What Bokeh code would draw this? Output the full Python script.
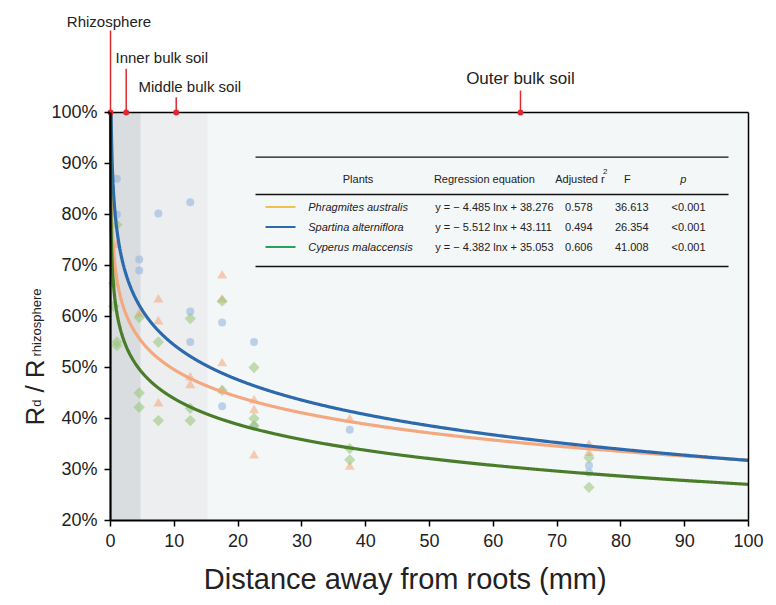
import numpy as np
from bokeh.plotting import figure
from bokeh.models import Range1d, FixedTicker, PrintfTickFormatter, Label, Arrow
from bokeh.embed import file_html
from bokeh.resources import INLINE

# ---------------- data ----------------
x_ticks = [0, 10, 20, 30, 40, 50, 60, 70, 80, 90, 100]
y_ticks = [20, 30, 40, 50, 60, 70, 80, 90, 100]

zone_names = ["Rhizosphere", "Inner bulk soil", "Middle bulk soil", "Outer bulk soil"]
zone_marker_x = [0, 2.46, 10.3, 64.26]
band_edges = [0, 4.75, 15.25, 100]

plants = ["Phragmites australis", "Spartina alterniflora", "Cyperus malaccensis"]
equations = ["y = \u2212 4.485 lnx + 38.276",
             "y = \u2212 5.512 lnx + 43.111",
             "y = \u2212 4.382 lnx + 35.053"]
adj_r2 = ["0.578", "0.494", "0.606"]
f_values = ["36.613", "26.354", "41.008"]
p_values = ["<0.001", "<0.001", "<0.001"]
headers = ["Plants", "Regression equation", "Adjusted r", "F", "p"]

# fitted curves as drawn (percent): y = a - b ln(x)
curve_a = [67.3, 77.0, 60.7]
curve_b = [7.7, 9.82, 7.3]

# observations (percent of rhizosphere)
phr_x = [1, 4.5, 7.5, 7.5, 7.5, 12.5, 12.5, 17.5, 17.5, 17.5, 17.5, 22.5, 22.5, 22.5, 37.5, 37.5, 75, 75]
phr_y = [74, 60.5, 63.3, 59, 42.9, 48, 46.5, 68, 63.3, 50.8, 45.5, 43.5, 41.6, 32.7, 39.8, 30.5, 34.8, 33.2]
spa_x = [1, 1, 4.5, 4.5, 7.5, 12.5, 12.5, 12.5, 17.5, 17.5, 22.5, 22.5, 37.5, 75, 75]
spa_y = [87, 80, 71.2, 69, 80.2, 82.4, 61, 55, 58.8, 42.4, 55, 38.5, 37.8, 30.8, 29.4]
cyp_x = [1, 0.5, 0.5, 1, 1, 4.5, 4.5, 4.5, 7.5, 7.5, 12.5, 12.5, 12.5, 17.5, 17.5, 22.5, 22.5, 22.5, 37.5, 37.5, 75, 75]
cyp_y = [78, 66.5, 62, 55, 54.3, 59.8, 45, 42.2, 55, 39.6, 59.6, 42, 39.6, 63, 45.5, 50, 40, 38.6, 34.1, 31.9, 32.3, 26.5]

# ---------------- styles ----------------
FONT = "Liberation Sans"
band_colors = ["#d9dddf", "#eceeef", "#f4f7f8"]
curve_colors = ["#f3a87f", "#2d6aad", "#4a7d2a"]
legend_colors = ["#eec24c", "#2d6aad", "#25a35c"]
RED = "#de2a2f"
TXT = "#222222"

# the frame covers the whole canvas; the plot box (0-100, 20-100) sits inside it
p = figure(width=776, height=605, min_border=0,
           x_range=Range1d(-17.241, 104.389), y_range=Range1d(3.333, 121.96),
           output_backend="svg", toolbar_location=None)
p.background_fill_color = "white"
p.border_fill_color = "white"
p.outline_line_color = None
p.grid.visible = False

# background bands
p.quad(left=band_edges[:-1], right=band_edges[1:], bottom=20, top=100,
       fill_color=band_colors, line_color=None)

# scatter points
p.scatter(spa_x, spa_y, marker="circle", size=8, fill_color="#8fb0de", fill_alpha=0.55, line_color=None)
p.scatter(phr_x, phr_y, marker="triangle", size=10, fill_color="#f3a06c", fill_alpha=0.5, line_color=None)
p.scatter(cyp_x, cyp_y, marker="square", angle=np.pi / 4, size=8, fill_color="#93c572",
          fill_alpha=0.55, line_color=None)

# fitted curves, starting where they leave the 100% line
for a, b, c in zip(curve_a, curve_b, curve_colors):
    x0 = np.exp((a - 100.0) / b)
    xs = np.geomspace(x0, 100, 3000)
    p.line(xs, a - b * np.log(xs), line_color=c, line_width=3.2)

# box (top and right sides)
p.segment(x0=[0, 100], y0=[100, 20], x1=[100, 100], y1=[100, 100], line_color="black", line_width=1.5)

# axes fixed at the box edges
p.xaxis.fixed_location = 20
p.yaxis.fixed_location = 0
p.xaxis.bounds = (0, 100)
p.yaxis.bounds = (20, 100)
p.xaxis.ticker = FixedTicker(ticks=x_ticks)
p.yaxis.ticker = FixedTicker(ticks=y_ticks)
p.yaxis.formatter = PrintfTickFormatter(format="%d%%")
for ax in (p.xaxis, p.yaxis):
    ax.axis_line_width = 2.2
    ax.axis_line_color = "black"
    ax.major_tick_line_color = "black"
    ax.major_tick_line_width = 1.5
    ax.major_tick_out = 6
    ax.major_tick_in = 0
    ax.minor_tick_line_color = None
    ax.major_label_text_font = FONT
    ax.major_label_text_font_size = "18px"
    ax.major_label_text_color = TXT
p.xaxis.major_label_standoff = 8
p.yaxis.major_label_standoff = 7


def lab(x, y, text, size, align="left", baseline="middle", color=TXT,
        style="normal", angle=0):
    p.add_layout(Label(x=x, y=y, text=text, text_font=FONT, text_font_size=size,
                       text_align=align, text_baseline=baseline, text_color=color,
                       text_font_style=style, angle=angle))


# x-axis title
lab(46.2, 8.6, "Distance away from roots (mm)", "29px", align="center")

# y-axis title: R_d / R_rhizosphere (rotated, composed)
yl_x, yl_xs = -11.91, -11.6
lab(yl_x, 38.63, "R", "26px", baseline="alphabetic", angle=np.pi / 2)
lab(yl_xs, 42.31, "d", "13px", baseline="alphabetic", angle=np.pi / 2)
lab(yl_x, 45.1, "/", "26px", baseline="alphabetic", angle=np.pi / 2)
lab(yl_x, 47.88, "R", "26px", baseline="alphabetic", angle=np.pi / 2)
lab(yl_xs, 52.16, "rhizosphere", "13px", baseline="alphabetic", angle=np.pi / 2)

# zone annotations above the plot
zone_text_pos = [(-0.24, 117.75, "center", "15px"), (0.78, 110.69, "left", "15px"),
                 (4.39, 105.0, "left", "15px"), (64.26, 106.67, "center", "17px")]
zone_line_top = [116.08, 108.6, 103.0, 104.3]
for name, (tx, ty, al, fs) in zip(zone_names, zone_text_pos):
    lab(tx, ty, name, fs, align=al)
for mx, lt in zip(zone_marker_x, zone_line_top):
    p.add_layout(Arrow(end=None, x_start=mx, y_start=lt, x_end=mx, y_end=100,
                       line_color=RED, line_width=1.5))
p.scatter(zone_marker_x, [100] * len(zone_marker_x), marker="circle", size=6,
          fill_color=RED, line_color=None)

# regression table
tx0, tx1 = 22.73, 96.87
p.segment(x0=tx0, y0=[91.24, 83.92, 69.8], x1=tx1, y1=[91.24, 83.92, 69.8],
          line_color="#111111", line_width=1.3)
hy = 87.0
head_pos = [(38.8, "center"), (58.6, "center"), (69.7, "left"), (81.0, "center"), (89.8, "center")]
for h, (hx, al) in zip(headers, head_pos):
    lab(hx, hy, h, "11px", align=al, style="italic" if h == "p" else "normal")
lab(77.2, 88.5, "2", "8px", align="left")
row_y = [81.47, 77.55, 73.63]
for i in range(3):
    ry = row_y[i]
    p.segment(x0=24.3, y0=ry, x1=29.0, y1=ry, line_color=legend_colors[i], line_width=2)
    lab(31.0, ry, plants[i], "11px", style="italic")
    lab(50.9, ry, equations[i], "11px")
    lab(73.4, ry, adj_r2[i], "11px", align="center")
    lab(81.7, ry, f_values[i], "11px", align="center")
    lab(90.6, ry, p_values[i], "11px", align="center")

open("out.html", "w").write(file_html(p, INLINE))
